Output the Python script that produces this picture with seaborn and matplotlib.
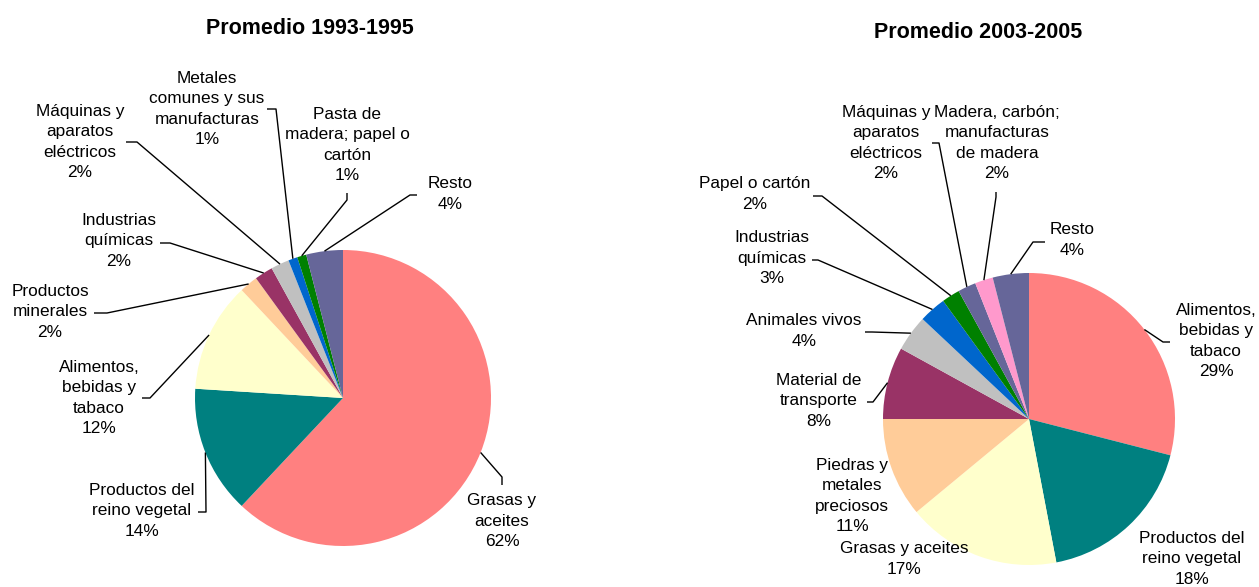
import numpy as np
import matplotlib
matplotlib.use("Agg")
import matplotlib.pyplot as plt
import seaborn as sns

# ---------------- data ----------------
left_title = "Promedio 1993-1995"
left_labels = ["Grasas y\naceites", "Productos del\nreino vegetal", "Alimentos,\nbebidas y\ntabaco",
               "Productos\nminerales", "Industrias\nquímicas", "Máquinas y\naparatos\neléctricos",
               "Metales\ncomunes y sus\nmanufacturas", "Pasta de\nmadera; papel o\ncartón", "Resto"]
left_values = [62, 14, 12, 2, 2, 2, 1, 1, 4]
left_colors = ["#FF8080", "#008080", "#FFFFCC", "#FFCC99", "#993366", "#C0C0C0", "#0066CC", "#008000", "#666699"]

right_title = "Promedio 2003-2005"
right_labels = ["Alimentos,\nbebidas y\ntabaco", "Productos del\nreino vegetal", "Grasas y aceites",
                "Piedras y\nmetales\npreciosos", "Material de\ntransporte", "Animales vivos",
                "Industrias\nquímicas", "Papel o cartón", "Máquinas y\naparatos\neléctricos",
                "Madera, carbón;\nmanufacturas\nde madera", "Resto"]
right_values = [29, 18, 17, 11, 8, 4, 3, 2, 2, 2, 4]
right_colors = ["#FF8080", "#008080", "#FFFFCC", "#FFCC99", "#993366", "#C0C0C0", "#0066CC", "#008000",
                "#666699", "#FF99CC", "#666699"]

# ---------------- layout (pixel coordinates, y down) ----------------
W, H = 1259, 587
left_center, left_radius = (343, 398), 148
right_center, right_radius = (1029, 419), 146

left_text_pos = [(502, 521), (142, 511), (99, 398), (50, 312), (119, 241), (80, 142),
                 (207, 109), (347, 145), (450, 194)]
left_leaders = [[(502, 485), (502, 477)],
                [(198, 512), (206, 512)],
                [(142, 398), (150, 398)],
                [(94, 313), (107, 313)],
                [(160, 243), (170, 243)],
                [(126, 142), (137, 142)],
                [(267, 109), (276, 109)],
                [(347, 193), (347, 200)],
                [(417, 195), (410, 195)]]

right_text_pos = [(1216, 341), (1192, 559), (904, 559), (852, 496), (819, 401), (804, 331),
                  (772, 258), (755, 194), (886, 143), (997, 143), (1072, 240)]
right_leaders = [[(1170, 342), (1163, 342)],
                 [],
                 [],
                 [],
                 [(867, 402), (873, 402)],
                 [(865, 332), (872, 332)],
                 [(812, 260), (818, 260)],
                 [(813, 196), (822, 196)],
                 [(932, 143), (939, 143)],
                 [(996, 192), (996, 197)],
                 [(1045, 242), (1033, 242)]]

sns.set_theme(style="white")
plt.rcParams["font.family"] = ["Liberation Sans", "DejaVu Sans"]
plt.rcParams["text.color"] = "black"

fig = plt.figure(figsize=(W / 100, H / 100), dpi=100)
ax = fig.add_axes([0, 0, 1, 1])


def draw_pie(values, labels, colors, center, radius, text_pos, leaders, title, title_pos):
    # inverted y axis: data counterclockwise from -90 looks clockwise from top
    wedges, _ = ax.pie(values, colors=colors, startangle=-90, counterclock=True,
                       center=center, radius=radius, wedgeprops=dict(linewidth=0))
    for w, lab, v, tp, ld in zip(wedges, labels, values, text_pos, leaders):
        ax.text(tp[0], tp[1], f"{lab}\n{v}%", ha="center", va="center", fontsize=12.4,
                linespacing=1.42, color="black")
        if ld:
            th = np.deg2rad((w.theta1 + w.theta2) / 2)
            px = center[0] + radius * np.cos(th)
            py = center[1] + radius * np.sin(th)
            xs = [p[0] for p in ld] + [px]
            ys = [p[1] for p in ld] + [py]
            ax.plot(xs, ys, color="black", lw=1.0, solid_capstyle="butt")
    ax.text(title_pos[0], title_pos[1], title, ha="center", va="center", fontsize=15.5,
            fontweight="bold", color="black")


draw_pie(left_values, left_labels, left_colors, left_center, left_radius,
         left_text_pos, left_leaders, left_title, (310, 28))
draw_pie(right_values, right_labels, right_colors, right_center, right_radius,
         right_text_pos, right_leaders, right_title, (978, 33))

ax.set_xlim(0, W)
ax.set_ylim(H, 0)
ax.set_aspect("auto")
ax.axis("off")
fig.savefig("out.png", dpi=100, facecolor="white")
